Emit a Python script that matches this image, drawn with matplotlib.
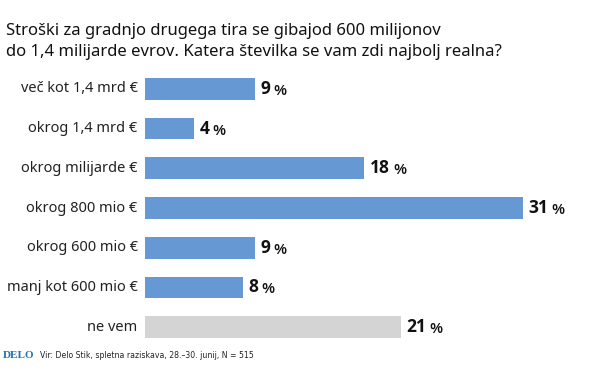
import matplotlib

matplotlib.use("Agg")
import matplotlib.pyplot as plt

categories = [
    "več kot 1,4 mrd €",
    "okrog 1,4 mrd €",
    "okrog milijarde €",
    "okrog 800 mio €",
    "okrog 600 mio €",
    "manj kot 600 mio €",
    "ne vem",
]
values = [9, 4, 18, 31, 9, 8, 21]
colors = ["#6699d3"] * 6 + ["#d4d4d4"]

TITLE_LINES = ["Stroški za gradnjo drugega tira se gibajod 600 milijonov",
               "do 1,4 milijarde evrov. Katera številka se vam zdi najbolj realna?"]
SOURCE = "Vir: Delo Stik, spletna raziskava, 28.–30. junij, N = 515"

plt.rcParams["font.family"] = ["Noto Sans", "DejaVu Sans"]

fig = plt.figure(figsize=(6, 3.73), dpi=100)
ax = fig.add_axes([145 / 600, 1 - 347 / 373, 451 / 600, 278 / 373])

y = list(range(len(categories)))
ax.barh(y, values, height=0.55, color=colors)
ax.set_xlim(0, 37)
ax.set_ylim(len(categories) - 0.5, -0.5)
ax.axis("off")

bold = ["Open Sans", "DejaVu Sans"]
for yi, cat, v in zip(y, categories, values):
    ax.text(-0.6, yi, cat, ha="right", va="center", fontsize=10.5, color="#222222")
    t = ax.annotate(f"{v}", (v, yi), xytext=(4, 0), textcoords="offset points",
                    ha="left", va="center", fontsize=12.5, fontweight="bold",
                    family=bold, color="#111111")
    ax.annotate(" %", (1, 0), xycoords=t, ha="left", va="bottom",
                fontsize=11, fontweight="semibold", family=bold, color="#111111")

for i, line in enumerate(TITLE_LINES):
    fig.text(6 / 600, 1 - (35 + 21 * i) / 373, line, ha="left", va="baseline",
             fontsize=12, color="#111111")
fig.text(3 / 600, 1 - 356 / 373, "DELO", ha="left", va="center", fontsize=8,
         fontweight="bold", family="Liberation Serif", color="#1f6fb5")
fig.text(40 / 600, 1 - 356 / 373, SOURCE, ha="left", va="center", fontsize=5.6,
         family=["Liberation Sans Narrow", "DejaVu Sans"], color="#222222")

fig.savefig("out.png", dpi=100)
